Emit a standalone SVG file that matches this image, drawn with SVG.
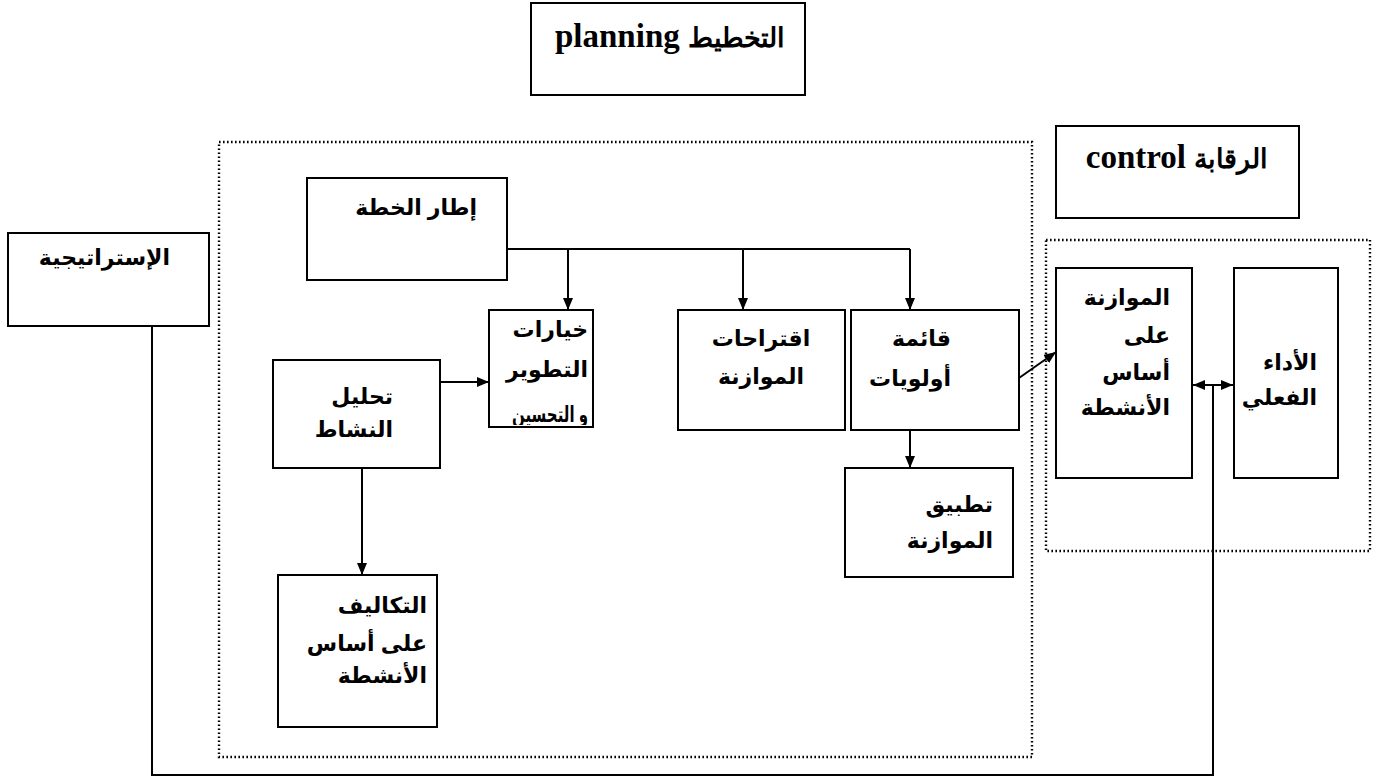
<svg xmlns="http://www.w3.org/2000/svg" width="1373" height="784" viewBox="0 0 1373 784">
<style>
.box{fill:#fff;stroke:#000;stroke-width:2}
.dot{fill:none;stroke:#000;stroke-width:2.4;stroke-dasharray:1.6 2.4}
.con{fill:none;stroke:#000;stroke-width:2}
.ar{font-family:"Liberation Sans","DejaVu Sans",Arial,sans-serif;font-weight:bold;font-size:22px;fill:#000;text-anchor:end}
.arc{font-family:"Liberation Sans","DejaVu Sans",Arial,sans-serif;font-weight:bold;font-size:22px;fill:#000;text-anchor:middle}
.ttl{font-family:"Liberation Serif","Times New Roman",serif;font-weight:bold;font-size:33px;fill:#000;text-anchor:middle}
.ttla{font-size:27px}
</style>
<defs>
<marker id="arr" viewBox="0 0 12 10" refX="12" refY="5" markerWidth="12" markerHeight="10" markerUnits="userSpaceOnUse" orient="auto">
<path d="M0,0 L12,5 L0,10 Z" fill="#000"/>
</marker>
<clipPath id="clipOpt"><rect x="490" y="311" width="102" height="114"/></clipPath>
</defs>

<rect class="dot" x="219" y="142" width="813" height="615"/>
<rect class="dot" x="1046" y="240" width="324" height="311"/>

<g id="connectors">
<path class="con" d="M152 326 V775 H1213 V385"/>
<path class="con" d="M1213 385 H1193" marker-end="url(#arr)"/>
<path class="con" d="M1213 385 H1233" marker-end="url(#arr)"/>
<path class="con" d="M507 249 H910"/>
<path class="con" d="M568 249 V310" marker-end="url(#arr)"/>
<path class="con" d="M743 249 V310" marker-end="url(#arr)"/>
<path class="con" d="M910 249 V310" marker-end="url(#arr)"/>
<path class="con" d="M440 382 H489" marker-end="url(#arr)"/>
<path class="con" d="M362 468 V575" marker-end="url(#arr)"/>
<path class="con" d="M1019 378 L1056 352" marker-end="url(#arr)"/>
<path class="con" d="M910 430 V468" marker-end="url(#arr)"/>
</g>

<g id="planning">
<rect class="box" x="531" y="3" width="274" height="92"/>
<text class="ttl" x="670" y="47" direction="rtl"><tspan class="ttla">التخطيط</tspan> planning</text>
</g>

<g id="control">
<rect class="box" x="1056" y="126" width="243" height="92"/>
<text class="ttl" x="1177" y="168" direction="rtl"><tspan class="ttla">الرقابة</tspan> control</text>
</g>

<g id="strategy">
<rect class="box" x="8" y="233" width="201" height="93"/>
<text class="ar" x="170" y="265">الإستراتيجية</text>
</g>

<g id="plan-frame">
<rect class="box" x="307" y="178" width="200" height="102"/>
<text class="ar" x="477" y="215">إطار الخطة</text>
</g>

<g id="options">
<rect class="box" x="489" y="310" width="104" height="117"/>
<g clip-path="url(#clipOpt)">
<text class="ar" x="588" y="337">خيارات</text>
<text class="ar" x="588" y="377">التطوير</text>
<text class="ar" x="588" y="422" textLength="76" lengthAdjust="spacingAndGlyphs">و التحسين</text>
</g>
</g>

<g id="proposals">
<rect class="box" x="678" y="310" width="167" height="120"/>
<text class="arc" x="761" y="346">اقتراحات</text>
<text class="arc" x="761" y="384">الموازنة</text>
</g>

<g id="priorities">
<rect class="box" x="851" y="310" width="168" height="120"/>
<text class="ar" x="951" y="346">قائمة</text>
<text class="ar" x="951" y="386">أولويات</text>
</g>

<g id="activity">
<rect class="box" x="273" y="360" width="167" height="108"/>
<text class="ar" x="393" y="404">تحليل</text>
<text class="ar" x="393" y="437">النشاط</text>
</g>

<g id="apply">
<rect class="box" x="845" y="468" width="168" height="109"/>
<text class="ar" x="993" y="512">تطبيق</text>
<text class="ar" x="993" y="548">الموازنة</text>
</g>

<g id="costs">
<rect class="box" x="278" y="575" width="159" height="152"/>
<text class="ar" x="427" y="613">التكاليف</text>
<text class="ar" x="427" y="651">على أساس</text>
<text class="ar" x="427" y="683">الأنشطة</text>
</g>

<g id="abb">
<rect class="box" x="1056" y="268" width="136" height="210"/>
<text class="ar" x="1170" y="305">الموازنة</text>
<text class="ar" x="1170" y="343">على</text>
<text class="ar" x="1170" y="380">أساس</text>
<text class="ar" x="1170" y="415">الأنشطة</text>
</g>

<g id="performance">
<rect class="box" x="1234" y="268" width="104" height="210"/>
<text class="ar" x="1317" y="370">الأداء</text>
<text class="ar" x="1317" y="405">الفعلي</text>
</g>
</svg>
